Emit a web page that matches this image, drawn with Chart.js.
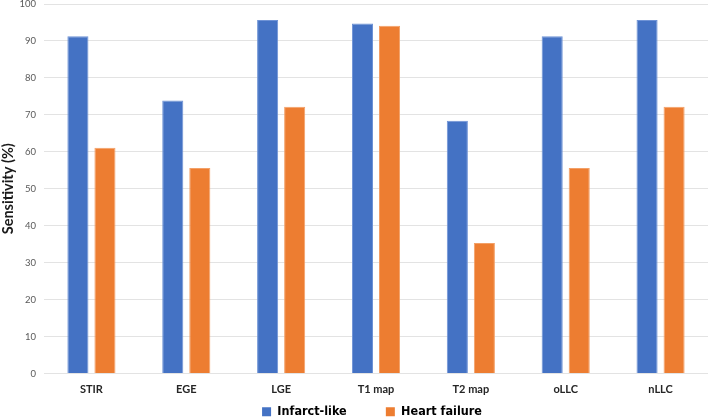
<!DOCTYPE html>
<html>
<head>
<meta charset="utf-8">
<script src="https://cdn.jsdelivr.net/npm/chart.js@4/dist/chart.umd.min.js"></script>
<style>
  html, body { margin: 0; padding: 0; background: #fff; }
  #wrap { width: 708px; height: 417px; }
</style>
</head>
<body>
<div id="wrap"><canvas id="sensChart"></canvas></div>
<script>
const categories = ['STIR', 'EGE', 'LGE', 'T1 map', 'T2 map', 'oLLC', 'nLLC'];
const infarctLike = [91.3, 73.9, 95.7, 94.7, 68.4, 91.3, 95.7];
const heartFailure = [61.1, 55.6, 72.2, 94.1, 35.3, 55.6, 72.2];
const yTicks = [0, 10, 20, 30, 40, 50, 60, 70, 80, 90, 100];

const fontFamily = 'Lato, "Open Sans", sans-serif';
const legendFont = '"Liberation Sans Narrow", "DejaVu Sans Condensed", sans-serif';

// nudge the bottom legend into the place it has in the original picture
const legendNudge = {
    id: 'legendNudge',
    afterLayout: function (chart) {
        const lg = chart.legend;
        const dx = 18, dy = 10;
        lg.left += dx; lg.right += dx;
        lg.top += dy; lg.bottom += dy;
    }
};

document.addEventListener("DOMContentLoaded", function () {
    const ctx = document.getElementById('sensChart').getContext('2d');
    new Chart(ctx, {
        type: 'bar',
        data: {
            labels: categories,
            datasets: [{
                label: 'Infarct-like',
                data: infarctLike,
                backgroundColor: '#4472C4',
                borderColor: '#6f93d6',
                borderWidth: 1
            }, {
                label: 'Heart failure',
                data: heartFailure,
                backgroundColor: '#ED7D31',
                borderColor: '#f3a067',
                borderWidth: 1
            }]
        },
        options: {
            responsive: true,
            maintainAspectRatio: false,
            animation: false,
            categoryPercentage: 0.57,
            barPercentage: 0.78,
            layout: { padding: { top: 4, right: 0, left: 0, bottom: -1 } },
            scales: {
                x: {
                    grid: { display: false, drawTicks: false },
                    border: { display: false },
                    ticks: {
                        color: '#262626',
                        font: { family: fontFamily, size: 11, weight: 'bold' },
                        padding: 9
                    },
                    afterFit: function (scale) { scale.height = 22; }
                },
                y: {
                    min: 0,
                    max: 100,
                    afterBuildTicks: function (scale) {
                        scale.ticks = yTicks.map(v => ({ value: v }));
                    },
                    grid: { color: '#e3e3e3', lineWidth: 1, drawTicks: false },
                    border: { display: false },
                    ticks: {
                        color: '#595959',
                        font: { family: fontFamily, size: 9.5 },
                        padding: 8
                    },
                    title: {
                        display: true,
                        text: 'Sensitivity (%)',
                        color: '#1a1a1a',
                        font: { family: fontFamily, size: 14.5, weight: 'bold' },
                        padding: 0
                    },
                    afterFit: function (scale) {
                        scale.width = 44;
                        scale.paddingTop = 0;
                    }
                }
            },
            plugins: {
                legend: {
                    position: 'bottom',
                    labels: {
                        boxWidth: 9,
                        boxHeight: 9,
                        padding: 0,
                        color: '#1a1a1a',
                        font: { family: legendFont, size: 12.5, weight: 'bold', lineHeight: 0.85 },
                        generateLabels: function (chart) {
                            return chart.data.datasets.map((ds, i) => ({
                                text: i === 0 ? ds.label + '          ' : ds.label,
                                fillStyle: ds.backgroundColor,
                                strokeStyle: ds.backgroundColor,
                                lineWidth: 0,
                                datasetIndex: i,
                                hidden: false
                            }));
                        }
                    }
                },
                tooltip: { enabled: false }
            }
        },
        plugins: [legendNudge]
    });
});
</script>
</body>
</html>
